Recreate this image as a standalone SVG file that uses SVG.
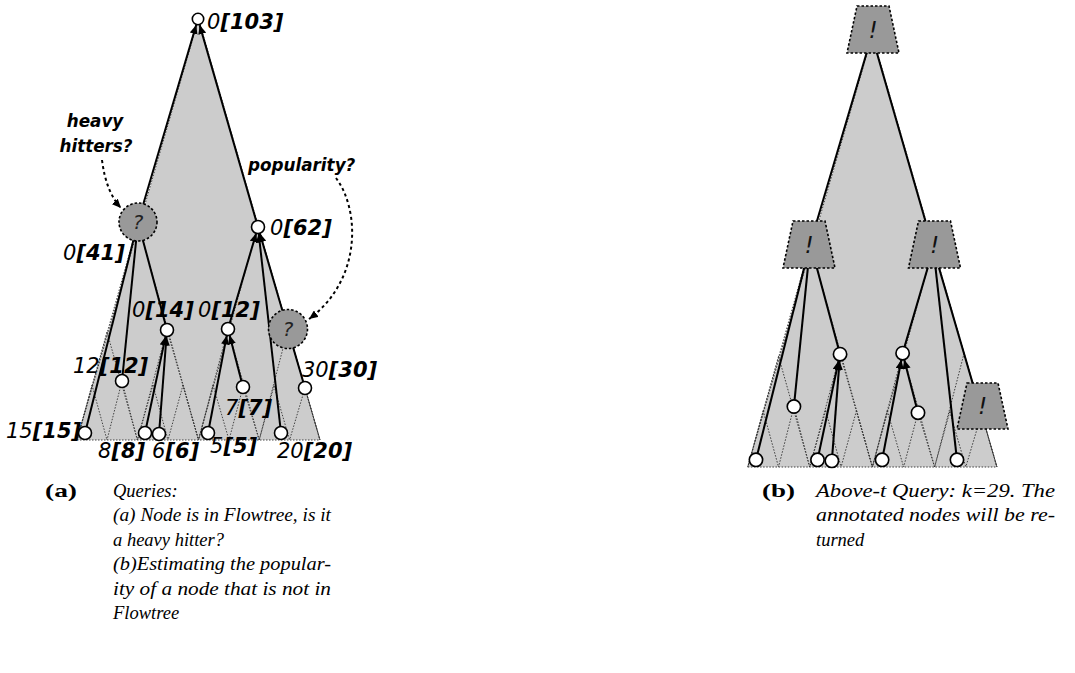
<svg xmlns="http://www.w3.org/2000/svg" width="1075" height="673" viewBox="0 0 1075 673">
<style>
.gray{fill:#cccccc;stroke:none}
.dot{fill:none;stroke:#333;stroke-width:0.9;stroke-dasharray:1.5 1.5}
.edge{fill:none;stroke:#000;stroke-width:2}
.arr{marker-end:url(#ah)}
.qarr{fill:none;stroke:#000;stroke-width:2;stroke-dasharray:3 3;marker-end:url(#ah)}
.node{fill:#fff;stroke:#000;stroke-width:1.6}
.q{fill:#999;stroke:#000;stroke-width:1.6;stroke-dasharray:2.5 2}
.lbl{font-family:"DejaVu Sans",sans-serif;font-size:21px;font-style:italic;fill:#000}
.b{font-weight:bold}
.ql{font-family:"DejaVu Sans",sans-serif;font-style:italic;font-size:20px;fill:#222;text-anchor:middle}
.ex{font-family:"DejaVu Sans",sans-serif;font-style:italic;font-size:23px;fill:#111;text-anchor:middle}
.ann{font-family:"DejaVu Sans",sans-serif;font-style:italic;font-weight:bold;font-size:16.8px;fill:#000}
.cap{font-family:"Liberation Serif",serif;font-style:italic;font-size:18.5px;fill:#000}
.capb{font-family:"Liberation Serif",serif;font-weight:bold;font-size:19px;fill:#000}
</style>
<defs>
<marker id="ah" markerUnits="userSpaceOnUse" markerWidth="10" markerHeight="8" refX="9" refY="4" orient="auto"><path d="M0,0 L9,4 L0,8 z" fill="#000"/></marker>
</defs>

<!-- ===== Left diagram (a) ===== -->
<g id="left-tree">
<polygon class="gray" points="198.5,19 77,440 320,440"/>
<path class="dot" d="M198.5,19 L77,440 M198.5,19 L320,440 M77,440 L320,440
M138,223 L77,440 M138,223 L198.5,440 M258,226 L198.5,440 M258,226 L320,440
M107,332 L77,440 M107,332 L137.4,440 M167,330 L137.4,440 M167,330 L198.5,440 M228,329 L198.5,440 M228,329 L259.2,440 M288,329 L259.2,440 M288,329 L320,440
M92,385 L77,440 M92,385 L107,440 M122,381 L107,440 M122,381 L137.4,440 M153,385 L137.4,440 M153,385 L168,440 M183,385 L168,440 M183,385 L198.5,440 M213,385 L198.5,440 M213,385 L229,440 M243,387 L229,440 M243,387 L259.2,440 M274,386 L259.2,440 M274,386 L289.6,440 M305,388 L289.6,440 M305,388 L320,440"/>
</g>
<g id="left-connectors">
<path class="edge arr" d="M138,222 L196.2,25"/>
<path class="edge arr" d="M258,227 L199.7,25.1"/>
<path class="edge" d="M85,433 L138,222"/>
<path class="edge" d="M122,381 L138,222"/>
<path class="edge" d="M167,330 L138,222"/>
<path class="edge arr" d="M145,433 L165.6,336.4"/>
<path class="edge arr" d="M159,434 L166.5,336.5"/>
<path class="edge arr" d="M228,329 L256.2,233.2"/>
<path class="edge arr" d="M281,433 L258.7,233.5"/>
<path class="edge arr" d="M305,388 L259.8,233.2"/>
<path class="edge arr" d="M208,433 L226.8,335.4"/>
<path class="edge arr" d="M243,387 L229.6,335.3"/>
<path class="qarr" d="M102,160 Q106,192 121,208"/>
<path class="qarr" d="M336,178 C360,210 362,280 309,319"/>
</g>
<g id="n-root"><circle class="node" cx="198" cy="19" r="5.7"/><text class="lbl" x="207" y="29">0<tspan class="b">[103]</tspan></text></g>
<g id="n-hh"><circle class="q" cx="138" cy="222" r="19"/><text class="ql" x="138" y="229">?</text><text class="lbl" x="63" y="260">0<tspan class="b">[41]</tspan></text></g>
<g id="n-62"><circle class="node" cx="258" cy="227" r="6.5"/><text class="lbl" x="270" y="235">0<tspan class="b">[62]</tspan></text></g>
<g id="n-14"><circle class="node" cx="167" cy="330" r="6.5"/><text class="lbl" x="132" y="317">0<tspan class="b">[14]</tspan></text></g>
<g id="n-12a"><circle class="node" cx="228" cy="329" r="6.5"/><text class="lbl" x="198" y="317">0<tspan class="b">[12]</tspan></text></g>
<g id="n-pop"><circle class="q" cx="288" cy="329" r="19.5"/><text class="ql" x="288" y="336">?</text></g>
<g id="n-12b"><circle class="node" cx="122" cy="381" r="6.5"/><text class="lbl" x="73" y="373">12<tspan class="b">[12]</tspan></text></g>
<g id="n-7"><circle class="node" cx="243" cy="387" r="6.5"/><text class="lbl" x="225" y="415">7<tspan class="b">[7]</tspan></text></g>
<g id="n-30"><circle class="node" cx="305" cy="388" r="6.5"/><text class="lbl" x="302" y="377">30<tspan class="b">[30]</tspan></text></g>
<g id="n-15"><circle class="node" cx="85" cy="433" r="6.5"/><text class="lbl" x="6" y="438">15<tspan class="b">[15]</tspan></text></g>
<g id="n-8"><circle class="node" cx="145" cy="433" r="6.5"/><text class="lbl" x="98" y="458">8<tspan class="b">[8]</tspan></text></g>
<g id="n-6"><circle class="node" cx="159" cy="434" r="6.5"/><text class="lbl" x="152" y="458">6<tspan class="b">[6]</tspan></text></g>
<g id="n-5"><circle class="node" cx="208" cy="433" r="6.5"/><text class="lbl" x="210" y="453">5<tspan class="b">[5]</tspan></text></g>
<g id="n-20"><circle class="node" cx="281" cy="433" r="6.5"/><text class="lbl" x="277" y="458">20<tspan class="b">[20]</tspan></text></g>
<g id="t-heavy"><text class="ann" x="95" y="127" text-anchor="middle">heavy</text><text class="ann" x="96" y="152" text-anchor="middle">hitters?</text></g>
<g id="t-pop"><text class="ann" x="248" y="171">popularity?</text></g>

<!-- ===== Right diagram (b) ===== -->
<g transform="translate(668.8,15.8) scale(1.0255)">
<g id="right-tree">
<polygon class="gray" points="198.5,19 77,440 320,440"/>
<path class="dot" d="M198.5,19 L77,440 M198.5,19 L320,440 M77,440 L320,440
M138,223 L77,440 M138,223 L198.5,440 M258,226 L198.5,440 M258,226 L320,440
M107,332 L77,440 M107,332 L137.4,440 M167,330 L137.4,440 M167,330 L198.5,440 M228,329 L198.5,440 M228,329 L259.2,440 M288,329 L259.2,440 M288,329 L320,440
M92,385 L77,440 M92,385 L107,440 M122,381 L107,440 M122,381 L137.4,440 M153,385 L137.4,440 M153,385 L168,440 M183,385 L168,440 M183,385 L198.5,440 M213,385 L198.5,440 M213,385 L229,440 M243,387 L229,440 M243,387 L259.2,440 M274,386 L259.2,440 M274,386 L289.6,440 M305,388 L289.6,440 M305,388 L320,440"/>
</g>
<g id="right-connectors">
<path class="edge" d="M138,222 L196.2,25"/>
<path class="edge" d="M258,227 L199.7,25.1"/>
<path class="edge" d="M85,433 L138,222"/>
<path class="edge" d="M122,381 L138,222"/>
<path class="edge" d="M167,330 L138,222"/>
<path class="edge arr" d="M145,433 L165.6,336.4"/>
<path class="edge arr" d="M159,434 L166.5,336.5"/>
<path class="edge" d="M228,329 L258,227"/>
<path class="edge" d="M281,433 L258,227"/>
<path class="edge" d="M305,388 L258,227"/>
<path class="edge arr" d="M208,433 L226.8,335.4"/>
<path class="edge arr" d="M243,387 L229.6,335.3"/>
</g>
<g id="r-n14"><circle class="node" cx="167" cy="330" r="6.5"/></g>
<g id="r-n12a"><circle class="node" cx="228" cy="329" r="6.5"/></g>
<g id="r-n12b"><circle class="node" cx="122" cy="381" r="6.5"/></g>
<g id="r-n7"><circle class="node" cx="243" cy="387" r="6.5"/></g>
<g id="r-n15"><circle class="node" cx="85" cy="433" r="6.5"/></g>
<g id="r-n8"><circle class="node" cx="145" cy="433" r="6.5"/></g>
<g id="r-n6"><circle class="node" cx="159" cy="434" r="6.5"/></g>
<g id="r-n5"><circle class="node" cx="208" cy="433" r="6.5"/></g>
<g id="r-n20"><circle class="node" cx="281" cy="433" r="6.5"/></g>
</g>
<g id="r-root"><polygon class="q" points="857,6 889,6 899,53 847,53"/><text class="ex" x="873" y="38">!</text></g>
<g id="r-41"><polygon class="q" points="793,221 825,221 835,268 783,268"/><text class="ex" x="809" y="253">!</text></g>
<g id="r-62"><polygon class="q" points="918.5,221 950.5,221 960.5,268 908.5,268"/><text class="ex" x="934.5" y="253">!</text></g>
<g id="r-30"><polygon class="q" points="967,383 998,383 1008,429 957,429"/><text class="ex" x="982.5" y="414">!</text></g>

<!-- ===== Captions ===== -->
<g id="cap-a">
<text class="capb" x="45" y="497" textLength="32" lengthAdjust="spacingAndGlyphs">(a)</text>
<text class="cap" x="113" y="497">Queries:</text>
<text class="cap" x="113" y="521" textLength="218" lengthAdjust="spacingAndGlyphs">(a) Node is in Flowtree, is it</text>
<text class="cap" x="113" y="546">a heavy hitter?</text>
<text class="cap" x="113" y="570" textLength="218" lengthAdjust="spacingAndGlyphs">(b)Estimating the popular-</text>
<text class="cap" x="113" y="595" textLength="218" lengthAdjust="spacingAndGlyphs">ity of a node that is not in</text>
<text class="cap" x="113" y="619">Flowtree</text>
</g>
<g id="cap-b">
<text class="capb" x="762" y="497" textLength="33" lengthAdjust="spacingAndGlyphs">(b)</text>
<text class="cap" x="816" y="497" textLength="239" lengthAdjust="spacingAndGlyphs">Above-t Query: k=29. The</text>
<text class="cap" x="816" y="521" textLength="239" lengthAdjust="spacingAndGlyphs">annotated nodes will be re-</text>
<text class="cap" x="816" y="546">turned</text>
</g>
</svg>
